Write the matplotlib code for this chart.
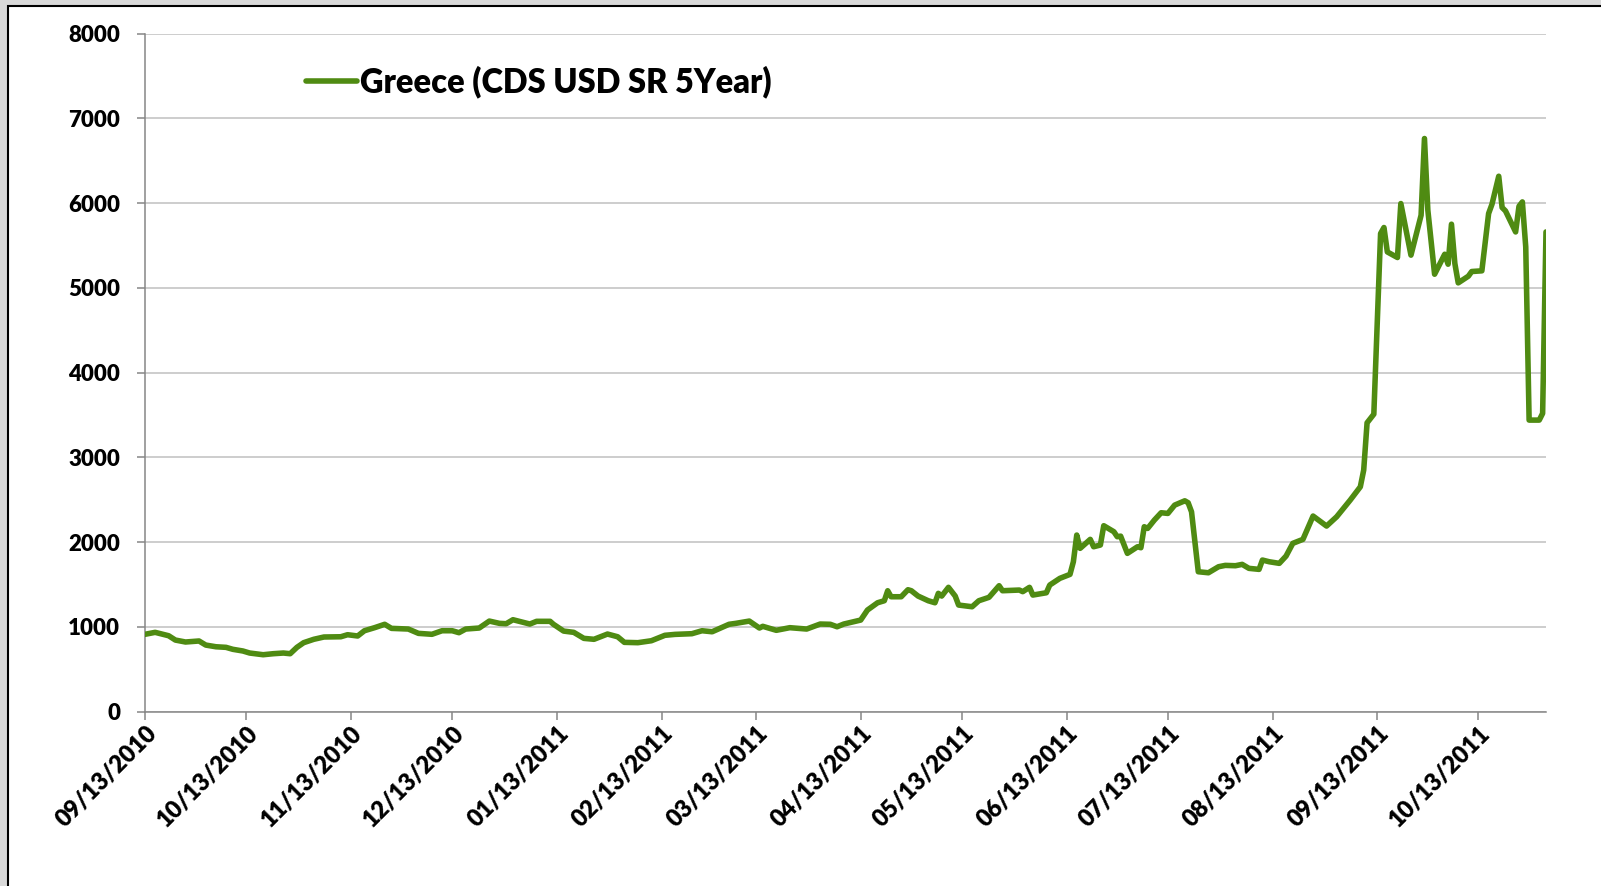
import matplotlib
matplotlib.use("Agg")
import matplotlib.dates as mdates
import matplotlib.pyplot as plt
import pandas as pd
from matplotlib.patches import Rectangle

SERIES_LABEL = "Greece (CDS USD SR 5Year)"

DATES = [
    "2010-09-13", "2010-09-16", "2010-09-20", "2010-09-22", "2010-09-25", "2010-09-29",
    "2010-10-01", "2010-10-04", "2010-10-07", "2010-10-09", "2010-10-12", "2010-10-14",
    "2010-10-18", "2010-10-21", "2010-10-24", "2010-10-26", "2010-10-28", "2010-10-30",
    "2010-11-02", "2010-11-05", "2010-11-10", "2010-11-12", "2010-11-15", "2010-11-17",
    "2010-11-20", "2010-11-23", "2010-11-25", "2010-11-30", "2010-12-03", "2010-12-07",
    "2010-12-10", "2010-12-13", "2010-12-15", "2010-12-17", "2010-12-21", "2010-12-24",
    "2010-12-27", "2010-12-29", "2010-12-31", "2011-01-05", "2011-01-07", "2011-01-11",
    "2011-01-12", "2011-01-15", "2011-01-18", "2011-01-21", "2011-01-24", "2011-01-28",
    "2011-01-31", "2011-02-02", "2011-02-06", "2011-02-10", "2011-02-14", "2011-02-17",
    "2011-02-22", "2011-02-25", "2011-02-28", "2011-03-05", "2011-03-07", "2011-03-11",
    "2011-03-14", "2011-03-15", "2011-03-19", "2011-03-23", "2011-03-28", "2011-04-01",
    "2011-04-04", "2011-04-06", "2011-04-08", "2011-04-13", "2011-04-15", "2011-04-18",
    "2011-04-20", "2011-04-21", "2011-04-22", "2011-04-25", "2011-04-27", "2011-04-28",
    "2011-04-30", "2011-05-03", "2011-05-05", "2011-05-06", "2011-05-07", "2011-05-09",
    "2011-05-11", "2011-05-12", "2011-05-16", "2011-05-18", "2011-05-21", "2011-05-24",
    "2011-05-25", "2011-05-30", "2011-05-31", "2011-06-02", "2011-06-03", "2011-06-07",
    "2011-06-08", "2011-06-11", "2011-06-14", "2011-06-15", "2011-06-16", "2011-06-17",
    "2011-06-20", "2011-06-21", "2011-06-23", "2011-06-24", "2011-06-27", "2011-06-28",
    "2011-06-29", "2011-07-01", "2011-07-04", "2011-07-05", "2011-07-06", "2011-07-07",
    "2011-07-09", "2011-07-11", "2011-07-13", "2011-07-15", "2011-07-18", "2011-07-19",
    "2011-07-20", "2011-07-22", "2011-07-25", "2011-07-28", "2011-07-30", "2011-08-02",
    "2011-08-04", "2011-08-06", "2011-08-09", "2011-08-10", "2011-08-12", "2011-08-15",
    "2011-08-17", "2011-08-19", "2011-08-22", "2011-08-25", "2011-08-29", "2011-09-01",
    "2011-09-05", "2011-09-08", "2011-09-09", "2011-09-10", "2011-09-12", "2011-09-14",
    "2011-09-15", "2011-09-16", "2011-09-19", "2011-09-20", "2011-09-23", "2011-09-26",
    "2011-09-27", "2011-09-28", "2011-09-30", "2011-10-03", "2011-10-04", "2011-10-05",
    "2011-10-06", "2011-10-07", "2011-10-10", "2011-10-11", "2011-10-14", "2011-10-16",
    "2011-10-17", "2011-10-19", "2011-10-20", "2011-10-21", "2011-10-24", "2011-10-25",
    "2011-10-26", "2011-10-27", "2011-10-28", "2011-10-31", "2011-11-01", "2011-11-02",
]

# spread in basis points
SPREADS = [
    912, 935, 895, 844, 821, 833,
    785, 765, 758, 735, 715, 691,
    671, 683, 691, 683, 758, 813,
    853, 880, 883, 907, 892, 954,
    990, 1030, 982, 974, 923, 912,
    954, 954, 931, 974, 986, 1068,
    1041, 1037, 1084, 1033, 1065, 1065,
    1030, 950, 935, 864, 853, 915,
    883, 817, 813, 836, 900, 911,
    919, 954, 942, 1030, 1041, 1068,
    986, 1006, 959, 990, 974, 1033,
    1030, 1001, 1033, 1080, 1198, 1284,
    1308, 1426, 1355, 1355, 1438, 1426,
    1363, 1308, 1284, 1395, 1363, 1466,
    1363, 1257, 1237, 1308, 1348, 1485,
    1426, 1434, 1415, 1466, 1375, 1402,
    1493, 1572, 1619, 1768, 2083, 1926,
    2032, 1945, 1965, 2193, 2122, 2063,
    2070, 1867, 1945, 1933, 2181, 2161,
    2260, 2346, 2338, 2436, 2487, 2464,
    2357, 1650, 1638, 1709, 1725, 1721,
    1737, 1690, 1678, 1788, 1768, 1749,
    1835, 1985, 2032, 2307, 2189, 2299,
    2495, 2652, 2849, 3407, 3509, 5640,
    5711, 5423, 5357, 5994, 5385, 5856,
    6761, 5915, 5160, 5396, 5278, 5750,
    5287, 5058, 5137, 5192, 5200, 5876,
    5986, 6316, 5947, 5907, 5659, 5962,
    6013, 5482, 3439, 3439, 3518, 5659,
]

START_DATE = "2010-09-13"
END_DATE = "2011-11-02"
Y_TICKS = [0, 1000, 2000, 3000, 4000, 5000, 6000, 7000, 8000]

LINE_COLOR = "#4f8b12"
AXIS_COLOR = "#868686"
GRID_COLOR = "#c0c0c0"

plt.rcParams["font.family"] = ["Lato", "DejaVu Sans"]
plt.rcParams["font.weight"] = "heavy"

fig = plt.figure(figsize=(16.01, 8.86), dpi=100)
fig.patch.set_facecolor("#d9d9d9")

# white chart area with a black frame, behind the plot
frame = Rectangle((8.3 / 1601, -0.1), 1.2, 1.1 - 5.8 / 886,
                  transform=fig.transFigure, facecolor="white",
                  edgecolor="black", linewidth=1.5, zorder=-10)
fig.add_artist(frame)

ax = fig.add_axes([145 / 1601, 1 - 711.6 / 886, (1546 - 145) / 1601, (711.6 - 33.5) / 886])
ax.set_facecolor("none")

dates = pd.to_datetime(DATES)
ax.plot(dates, SPREADS, color=LINE_COLOR, linewidth=4.0, solid_joinstyle="round",
        solid_capstyle="round", label=SERIES_LABEL, zorder=3)

ax.set_ylim(0, 8000)
ax.set_yticks(Y_TICKS)
ax.set_xlim(pd.Timestamp(START_DATE), pd.Timestamp(END_DATE))

tick_dates = pd.date_range(START_DATE, END_DATE, freq=pd.DateOffset(months=1))
ax.set_xticks(tick_dates)
ax.xaxis.set_major_formatter(mdates.DateFormatter("%m/%d/%Y"))

ax.yaxis.grid(True, color=GRID_COLOR, linewidth=1.1)
ax.set_axisbelow(True)

for side in ("top", "right"):
    ax.spines[side].set_visible(False)
for side in ("left", "bottom"):
    ax.spines[side].set_color(AXIS_COLOR)
    ax.spines[side].set_linewidth(1.1)

ax.tick_params(axis="both", direction="out", length=6, width=1.1, color=AXIS_COLOR,
               labelcolor="black")
ax.tick_params(axis="y", pad=12, labelsize=16)
ax.tick_params(axis="x", pad=1, labelsize=17)
for label in ax.get_xticklabels():
    label.set_rotation(45)
    label.set_rotation_mode("anchor")
    label.set_ha("right")
    label.set_va("top")
    label.set_fontweight("heavy")
for label in ax.get_yticklabels():
    label.set_fontweight("heavy")

ax.legend(loc="center left", bbox_to_anchor=(306 / 1601, 1 - 81.7 / 886),
          bbox_transform=fig.transFigure, frameon=False, borderpad=0, borderaxespad=0,
          handlelength=1.56, handletextpad=0.08, prop={"size": 23.5, "weight": "heavy"})

fig.savefig("out.png", dpi=100, facecolor=fig.get_facecolor())
